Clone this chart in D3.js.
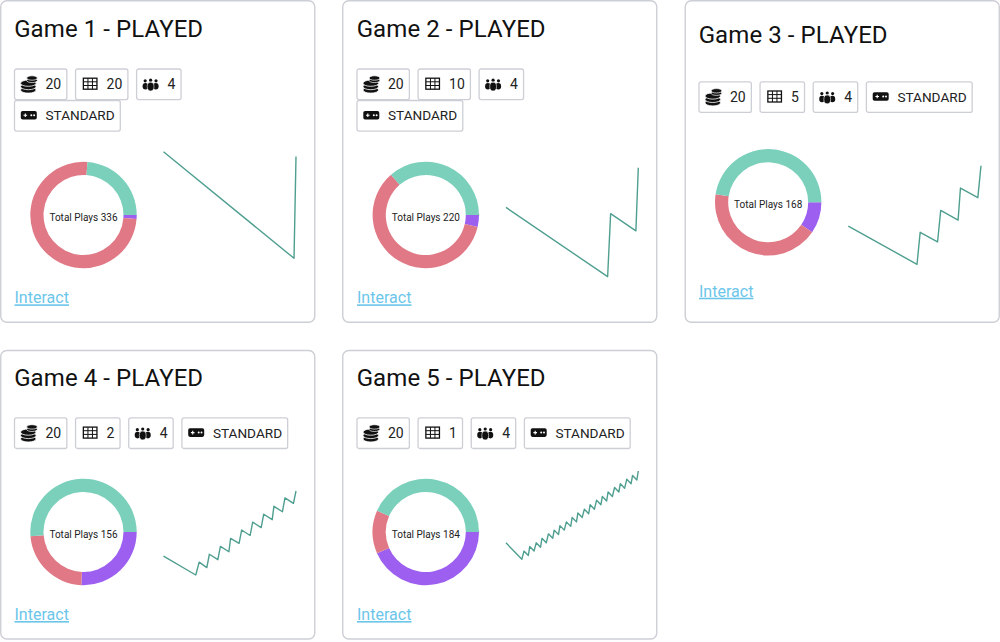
<!DOCTYPE html>
<html><head><meta charset="utf-8">
<script src="https://cdnjs.cloudflare.com/ajax/libs/d3/7.8.5/d3.min.js"></script>
<style>
html,body{margin:0;padding:0;background:#fff}
svg{display:block}
text{font-family:Roboto,sans-serif}
</style></head><body>
<svg id="chart" width="1000" height="642"></svg>
<script>
// ---------- data ----------
const gameNames = ["Game 1 - PLAYED","Game 2 - PLAYED","Game 3 - PLAYED","Game 4 - PLAYED","Game 5 - PLAYED"];
const stakes = [20,20,20,20,20];
const tables = [20,10,5,2,1];
const players = [4,4,4,4,4];
const modes = ["STANDARD","STANDARD","STANDARD","STANDARD","STANDARD"];
const totals = [336,220,168,156,184];
const purpleShare = [4,8,16,40,80];
const redShare = [252,132,72,36,24];
const tealShare = [80,80,80,80,80];
const linkLabel = "Interact";

const playsG1 = [0,331,336];
const balanceG1 = [0,-331,-15];
const playsG2 = [0,169,174,216,220];
const balanceG2 = [0,-169,-15,-57,97];
const playsG3 = [0,87,91,113,117,139,142,164,168];
const balanceG3 = [0,-87,-14,-36,36,14,87,65,138];
const playsG4 = [0,38,42,51,54,64,67,77,79,89,92,102,105,115,118,128,130,140,143,153,156];
const balanceG4 = [0,-38,-12,-23,4,-7,20,9,36,26,53,42,69,58,85,74,101,90,118,107,132];
const playsG5 = [0,22,25,31,33,39,42,48,50,56,59,65,67,73,75,81,84,90,92,98,100,106,109,115,117,123,126,132,134,140,142,148,151,157,159,165,168,174,176,182,184];
const balanceG5 = [0,-22,-11,-17,-5,-11,0,-6,6,0,12,6,17,11,23,17,28,22,34,28,40,34,45,39,51,45,57,51,62,56,68,62,74,68,79,73,85,79,90,84,96];
const playsAll = [playsG1,playsG2,playsG3,playsG4,playsG5];
const balanceAll = [balanceG1,balanceG2,balanceG3,balanceG4,balanceG5];

// ---------- layout ----------
const cards = [
 {x:.75,y:.75,w:314,h:321.5,tx:14.5,ty:36.7,chipY:69,wrap:true,cx:83.5,cy:215,lx:[163.5,296],ly:[258.3,151.7],ay:303.3},
 {x:342.75,y:.75,w:314,h:321.5,tx:357,ty:36.7,chipY:69,wrap:true,cx:425.8,cy:215,lx:[506,638.3],ly:[276.7,167.7],ay:303.3},
 {x:685.25,y:.75,w:314,h:321.5,tx:699,ty:42.7,chipY:81.8,wrap:false,cx:768.2,cy:202.3,lx:[848.3,981],ly:[264.3,165.7],ay:296.7},
 {x:.75,y:350.5,w:314,h:288.5,tx:14.5,ty:385.7,chipY:417.9,wrap:false,cx:83.5,cy:532,lx:[163.5,296],ly:[575,491],ay:620},
 {x:342.75,y:350.5,w:314,h:288.5,tx:357,ty:385.7,chipY:417.9,wrap:false,cx:425.8,cy:532,lx:[506,638.3],ly:[559.3,471],ay:620}
];
const colors = {teal:"#7ad0bb",red:"#e07885",purple:"#9c5ff0",line:"#4f9f90",link:"#6cc6ea",border:"#cdcfd6"};
const chipH = 30.6;

const svg = d3.select("#chart");

function icon(g,type){
  const k="#111";
  if(type==="coins"){
    [[7.8,14.2],[7.8,10.8],[7.8,7.4]].forEach(([cx,cy])=>{
      g.append("ellipse").attr("cx",cx).attr("cy",cy).attr("rx",7.8).attr("ry",3.1).attr("fill",k).attr("stroke","#fff").attr("stroke-width",.8);
    });
    [[11.5,4.6],[11.5,2.2]].forEach(([cx,cy])=>{
      g.append("ellipse").attr("cx",cx).attr("cy",cy).attr("rx",5.4).attr("ry",2.2).attr("fill",k).attr("stroke","#fff").attr("stroke-width",.7);
    });
  } else if(type==="table"){
    g.append("rect").attr("x",.8).attr("y",2.4).attr("width",13.6).attr("height",11).attr("fill","none").attr("stroke",k).attr("stroke-width",1.3);
    [5.4,9.9].forEach(x=>g.append("line").attr("x1",x).attr("x2",x).attr("y1",2.4).attr("y2",13.4).attr("stroke",k));
    [6,9.7].forEach(y=>g.append("line").attr("x1",.8).attr("x2",14.4).attr("y1",y).attr("y2",y).attr("stroke",k));
  } else if(type==="people"){
    [[2.6,5],[8,4.4],[13.4,5]].forEach(([cx,cy])=>{
      g.append("circle").attr("cx",cx).attr("cy",cy).attr("r",1.6).attr("fill",k);
    });
    g.append("ellipse").attr("cx",2.8).attr("cy",10.4).attr("rx",2.8).attr("ry",3.3).attr("fill",k);
    g.append("ellipse").attr("cx",13.2).attr("cy",10.4).attr("rx",2.8).attr("ry",3.3).attr("fill",k);
    g.append("ellipse").attr("cx",8).attr("cy",10.8).attr("rx",3.4).attr("ry",4.4).attr("fill",k).attr("stroke","#fff").attr("stroke-width",.6);
  } else {
    g.append("rect").attr("x",.3).attr("y",3.6).attr("width",16).attr("height",8.6).attr("rx",1.8).attr("fill",k);
    g.append("path").attr("d","M3 7.9h3.6M4.8 6.1v3.6").attr("stroke","#fff").attr("stroke-width",1.1);
    g.append("circle").attr("cx",10.8).attr("cy",7.9).attr("r",1).attr("fill","#fff");
    g.append("circle").attr("cx",13.6).attr("cy",7.9).attr("r",1).attr("fill","#fff");
  }
}

function chip(x,y,type,label){
  const g = svg.append("g").attr("transform",`translate(${x},${y})`);
  const r = g.append("rect").attr("y",0).attr("height",chipH).attr("rx",2)
    .attr("fill","#fff").attr("stroke",colors.border).attr("stroke-width",1.3);
  const t = g.append("text").attr("x",31).attr("y",19.8)
    .attr("font-size",type==="pad"?13.6:14).attr("fill","#222").text(label);
  const w = 31 + t.node().getComputedTextLength() + 5.6;
  r.attr("width",w);
  icon(g.append("g").attr("transform",`translate(${type==="table"?7:6},6.8)`),type);
  return w;
}

cards.forEach((c,i)=>{
  svg.append("rect").attr("x",c.x).attr("y",c.y).attr("width",c.w).attr("height",c.h).attr("rx",6)
    .attr("fill","#fff").attr("stroke",colors.border).attr("stroke-width",1.4);
  svg.append("text").attr("x",c.tx-.3).attr("y",c.ty).attr("font-size",24).attr("letter-spacing",.08).attr("fill","#111").text(gameNames[i]);

  let x=c.tx;
  const gap=8.7;
  x+=chip(x,c.chipY,"coins",stakes[i])+gap;
  x+=chip(x,c.chipY,"table",tables[i])+gap;
  x+=chip(x,c.chipY,"people",players[i])+gap;
  if(c.wrap) chip(c.tx,c.chipY+31.5,"pad",modes[i]);
  else chip(x,c.chipY,"pad",modes[i]);

  // donut
  const slices=[
    {v:purpleShare[i],f:colors.purple},
    {v:redShare[i],f:colors.red},
    {v:tealShare[i],f:colors.teal}
  ];
  const pie=d3.pie().value(d=>d.v).sort(null).startAngle(Math.PI/2).endAngle(Math.PI/2+2*Math.PI);
  const arc=d3.arc().innerRadius(40).outerRadius(53.2);
  const dg=svg.append("g").attr("transform",`translate(${c.cx},${c.cy})`);
  dg.selectAll("path").data(pie(slices)).join("path").attr("d",arc).attr("fill",d=>d.data.f);
  dg.append("text").attr("y",5.6).attr("text-anchor","middle").attr("font-size",10).attr("fill","#222")
    .text("Total Plays "+totals[i]);

  // line
  const xs=playsAll[i], ys=balanceAll[i];
  const sx=d3.scaleLinear().domain(d3.extent(xs)).range(c.lx);
  const sy=d3.scaleLinear().domain(d3.extent(ys)).range(c.ly);
  const line=d3.line().x(d=>sx(d[0])).y(d=>sy(d[1]));
  svg.append("path").datum(d3.zip(xs,ys)).attr("d",line).attr("fill","none")
    .attr("stroke",colors.line).attr("stroke-width",1.4).attr("stroke-linejoin","round");

  svg.append("text").attr("x",c.tx).attr("y",c.ay).attr("font-size",16).attr("letter-spacing",.02).attr("fill",colors.link)
    .attr("text-decoration","underline").text(linkLabel);
});
</script>
</body></html>
